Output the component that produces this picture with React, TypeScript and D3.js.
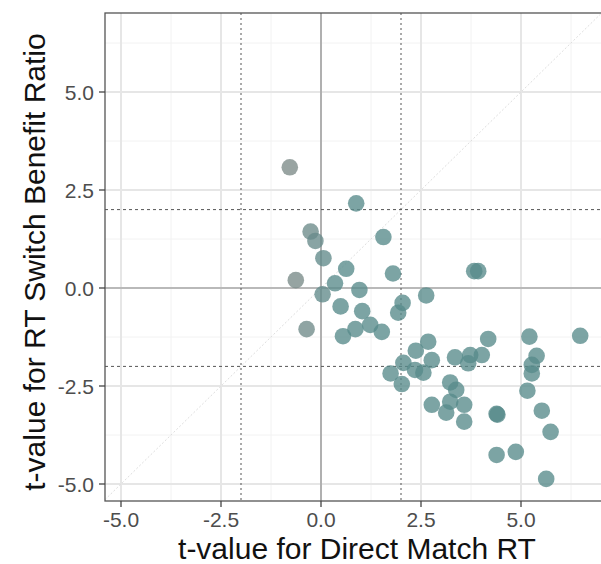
import React from 'react';
import * as d3 from 'd3';

// t-values
const directMatchT = [
  -0.78, 0.88, -0.26, -0.14, 0.06, 0.63, 1.56, -0.63, 0.35, 1.80,
  0.04, 0.96, 2.63, 2.04, 1.93, 0.49, 1.03, 1.23, 0.86, 1.52,
  -0.36, 0.55, 2.68, 2.37, 2.77, 2.06, 1.74, 2.35, 2.56, 2.02,
  4.18, 5.21, 6.48, 3.35, 3.73, 4.02, 3.68, 5.39, 5.27, 5.27,
  3.23, 3.38, 5.16, 2.77, 3.23, 3.13, 3.58, 3.58, 4.39, 5.52,
  5.74, 4.39, 4.87, 5.63, 3.83, 3.93, 4.41,
];
const switchBenefitT = [
  3.08, 2.16, 1.44, 1.20, 0.76, 0.49, 1.30, 0.20, 0.12, 0.37,
  -0.16, -0.05, -0.19, -0.38, -0.63, -0.47, -0.59, -0.94, -1.05, -1.12,
  -1.05, -1.23, -1.37, -1.60, -1.84, -1.91, -2.18, -2.09, -2.16, -2.45,
  -1.30, -1.24, -1.22, -1.77, -1.71, -1.71, -1.92, -1.73, -1.96, -2.18,
  -2.41, -2.60, -2.62, -2.98, -2.90, -3.18, -2.98, -3.41, -3.21, -3.13,
  -3.67, -4.26, -4.18, -4.87, 0.43, 0.43, -3.23,
];
const majorTicks = [-5, -2.5, 0, 2.5, 5];
const minorTicks = [-3.75, -1.25, 1.25, 3.75, 6.25];
const cutoffs = [-2, 2];

const W = 601;
const H = 564;
const left = 105, right = 602, top = 13, bottom = 501;

export default function App() {
  const x = d3.scaleLinear().domain([-5, 5]).range([121, 521]);
  const y = d3.scaleLinear().domain([-5, 5]).range([484, 92]);
  const xMin = x.invert(left), xMax = x.invert(right);
  const yMin = y.invert(bottom), yMax = y.invert(top);
  const col = d3.scaleLinear<string>().domain([-0.8, 0.4]).range(['#7d8a88', '#578b8b']).clamp(true);
  const pts = d3.zip(directMatchT, switchBenefitT);
  const dLo = Math.max(xMin, yMin), dHi = Math.min(xMax, yMax);
  const fmt = (t: number) => t.toFixed(1); // plain hyphen minus, as in the original

  return (
    <svg width={W} height={H} style={{ position: 'absolute', left: 0, top: 0, background: '#fff' }}
      fontFamily="'Liberation Sans', Arial, sans-serif">
      <defs>
        <clipPath id="panel"><rect x={left} y={top} width={right - left} height={bottom - top} /></clipPath>
      </defs>
      <g clipPath="url(#panel)">
        {minorTicks.map(t => (
          <g key={'mn' + t}>
            <line x1={x(t)} x2={x(t)} y1={top} y2={bottom} stroke="#f2f2f2" strokeWidth={1} />
            <line x1={left} x2={right} y1={y(t)} y2={y(t)} stroke="#f2f2f2" strokeWidth={1} />
          </g>
        ))}
        {majorTicks.map(t => (
          <g key={'mj' + t}>
            <line x1={x(t)} x2={x(t)} y1={top} y2={bottom} stroke="#e6e6e6" strokeWidth={2} />
            <line x1={left} x2={right} y1={y(t)} y2={y(t)} stroke="#e6e6e6" strokeWidth={2} />
          </g>
        ))}
        <line x1={x(0)} x2={x(0)} y1={top} y2={bottom} stroke="#8c8c8c" strokeWidth={1.2} />
        <line x1={left} x2={right} y1={y(0)} y2={y(0)} stroke="#8c8c8c" strokeWidth={1.2} />
        <line x1={x(dLo)} y1={y(dLo)} x2={x(dHi)} y2={y(dHi)} stroke="#dedede" strokeWidth={1} strokeDasharray="2,2" />
        {cutoffs.map(c => (
          <g key={'c' + c}>
            <line x1={x(c)} x2={x(c)} y1={top} y2={bottom} stroke="#555" strokeWidth={1} strokeDasharray="2,3" />
            <line x1={left} x2={right} y1={y(c)} y2={y(c)} stroke="#555" strokeWidth={1} strokeDasharray="3,3" />
          </g>
        ))}
        {pts.map(([a, b], i) => (
          <circle key={i} cx={x(a)} cy={y(b)} r={8.3} fill={col(a)} fillOpacity={0.78} />
        ))}
      </g>
      <rect x={left} y={top} width={right - left} height={bottom - top} fill="none" stroke="#555" strokeWidth={1.3} />
      {majorTicks.map(t => (
        <g key={'xt' + t}>
          <line x1={x(t)} x2={x(t)} y1={bottom} y2={bottom + 6} stroke="#444" strokeWidth={1.3} />
          <text x={x(t)} y={527} textAnchor="middle" fontSize={21} fill="#4d4d4d">{fmt(t)}</text>
        </g>
      ))}
      {majorTicks.map(t => (
        <g key={'yt' + t}>
          <line x1={left - 6} x2={left} y1={y(t)} y2={y(t)} stroke="#444" strokeWidth={1.3} />
          <text x={left - 11} y={y(t)} dy="0.36em" textAnchor="end" fontSize={21} fill="#4d4d4d">{fmt(t)}</text>
        </g>
      ))}
      <text x={357} y={559} textAnchor="middle" fontSize={30} fill="#111">t-value for Direct Match RT</text>
      <text transform="translate(45,262) rotate(-90)" textAnchor="middle" fontSize={30} fill="#111">
        t-value for RT Switch Benefit Ratio
      </text>
    </svg>
  );
}
